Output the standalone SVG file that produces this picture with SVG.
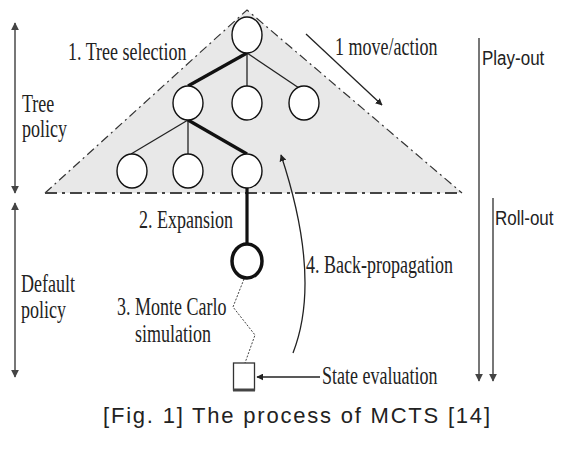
<svg xmlns="http://www.w3.org/2000/svg" width="576" height="453" viewBox="0 0 576 453">
<style>
.serif{font-family:"Liberation Serif","Times New Roman",serif;font-size:18px;fill:#222}
.sans{font-family:"Liberation Sans",Arial,sans-serif;font-size:17px;fill:#222}
.node{fill:#fff;stroke:#111;stroke-width:1.4}
.thin{stroke:#222;stroke-width:1.3;fill:none}
.thick{stroke:#111;stroke-width:3.2;fill:none}
.gray{stroke:#555;stroke-width:1.6;fill:none}
</style>
<defs>
<marker id="ah" viewBox="0 0 10 10" refX="9" refY="5" markerWidth="7" markerHeight="7" orient="auto-start-reverse" markerUnits="userSpaceOnUse">
<path d="M0,0 L10,5 L0,10 z" fill="#222"/>
</marker>
<marker id="ahg" viewBox="0 0 10 10" refX="9" refY="5" markerWidth="8" markerHeight="8" orient="auto-start-reverse" markerUnits="userSpaceOnUse">
<path d="M0,0 L10,5 L0,10 z" fill="#444"/>
</marker>
</defs>
<rect width="576" height="453" fill="#fff"/>
<g id="tree-region">
<polygon points="247,10 45,193 462,193" fill="#e8e8e8" stroke="none"/>
<path d="M45,193 L247,10 L462,193" fill="none" stroke="#333" stroke-width="1.2" stroke-dasharray="9,4,2,4"/>
<path d="M45,193 L462,193" fill="none" stroke="#444" stroke-width="2" stroke-dasharray="12,5,3,5"/>
</g>
<g id="connectors">
<line class="thick" x1="247" y1="53" x2="188" y2="86"/>
<line class="thin" x1="247" y1="53" x2="247" y2="86"/>
<line class="thin" x1="247" y1="53" x2="299" y2="88"/>
<line class="thin" x1="188" y1="120" x2="131" y2="154"/>
<line class="thin" x1="188" y1="120" x2="188" y2="154"/>
<line class="thick" x1="188" y1="120" x2="247" y2="154"/>
<line class="thick" x1="247" y1="188" x2="247" y2="244"/>
<path d="M244,279 L233,307 L255,335 L245,363" fill="none" stroke="#444" stroke-width="1" stroke-dasharray="2,1.5"/>
<line class="thin" x1="320" y1="377" x2="257" y2="377" marker-end="url(#ah)"/>
<path class="thin" d="M293,353 Q322,279 281,155" marker-end="url(#ah)"/>
<line class="thin" x1="306" y1="34" x2="382" y2="105" marker-end="url(#ah)"/>
<line class="gray" x1="15" y1="23" x2="15" y2="193" marker-start="url(#ahg)" marker-end="url(#ahg)"/>
<line class="gray" x1="15" y1="203" x2="15" y2="377" marker-start="url(#ahg)" marker-end="url(#ahg)"/>
<line class="gray" x1="479" y1="38" x2="479" y2="381" marker-end="url(#ahg)"/>
<line class="gray" x1="493" y1="198" x2="493" y2="381" marker-end="url(#ahg)"/>
</g>
<g id="n-root"><ellipse class="node" cx="247" cy="35" rx="15" ry="18"/></g>
<g id="n-l2a"><ellipse class="node" cx="188" cy="103" rx="15" ry="17"/></g>
<g id="n-l2b"><ellipse class="node" cx="247" cy="103" rx="15" ry="17"/></g>
<g id="n-l2c"><ellipse class="node" cx="304" cy="103" rx="15" ry="17"/></g>
<g id="n-l3a"><ellipse class="node" cx="132" cy="171" rx="15" ry="17"/></g>
<g id="n-l3b"><ellipse class="node" cx="188" cy="171" rx="15" ry="17"/></g>
<g id="n-l3c"><ellipse class="node" cx="247" cy="171" rx="15" ry="17"/></g>
<g id="n-expand"><ellipse cx="247" cy="261" rx="15" ry="17" fill="#fff" stroke="#111" stroke-width="3.5"/></g>
<g id="n-state">
<rect x="233.5" y="363" width="21" height="27" fill="#fff" stroke="#333" stroke-width="1.3"/>
<line x1="233" y1="390" x2="255" y2="390" stroke="#444" stroke-width="3"/>
</g>
<g id="labels">
<text class="serif" transform="translate(68,60) scale(1,1.35)">1. Tree selection</text>
<text class="serif" transform="translate(335,55) scale(1,1.35)">1 move/action</text>
<text class="serif" transform="translate(22,112) scale(1,1.35)">Tree</text>
<text class="serif" transform="translate(22,137) scale(1,1.35)">policy</text>
<text class="serif" transform="translate(139,228) scale(1,1.35)">2. Expansion</text>
<text class="serif" transform="translate(21,292) scale(1,1.35)">Default</text>
<text class="serif" transform="translate(21,318) scale(1,1.35)">policy</text>
<text class="serif" transform="translate(117,315) scale(1,1.35)">3. Monte Carlo</text>
<text class="serif" transform="translate(135,342) scale(1,1.35)">simulation</text>
<text class="serif" transform="translate(306,273) scale(1,1.35)">4. Back-propagation</text>
<text class="serif" transform="translate(322,384) scale(1,1.35)">State evaluation</text>
<text class="sans" transform="translate(482,65) scale(1,1.15)">Play-out</text>
<text class="sans" transform="translate(495,225) scale(1,1.15)">Roll-out</text>
<text x="103" y="423" font-family="'Liberation Sans',Arial,sans-serif" font-size="22" fill="#222" textLength="387" lengthAdjust="spacing">[Fig. 1] The process of MCTS [14]</text>
</g>
</svg>
